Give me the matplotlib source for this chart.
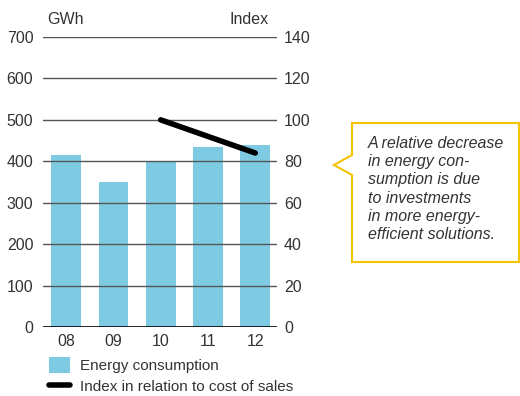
import matplotlib.pyplot as plt
from matplotlib.patches import Polygon, Patch
from matplotlib.lines import Line2D

plt.rcParams['font.family'] = ['Liberation Sans', 'DejaVu Sans']

years = ['08', '09', '10', '11', '12']
energy_gwh = [415, 350, 400, 435, 440]
index_years = ['10', '11', '12']
index_values = [100, 92, 84]

bar_color = '#7ecae3'
text_color = '#333333'
grid_color = '#555555'
gold = '#f5c400'
fs = 11.5

W, H = 520, 396
fig = plt.figure(figsize=(W / 100, H / 100), dpi=100)
ax = fig.add_axes([43 / W, 1 - 327 / H, 234 / W, 290 / H])

x = list(range(len(years)))
ax.bar(x, energy_gwh, width=0.63, color=bar_color, zorder=1)
ax.set_xlim(-0.49, 4.46)
ax.set_ylim(0, 700)
ax.set_yticks(range(0, 701, 100))
ax.set_xticks(x)
ax.set_xticklabels(years)

# horizontal rules on top of the bars
for v in range(100, 701, 100):
    ax.axhline(v, color=grid_color, lw=1.0, zorder=2)
ax.axhline(0, color='black', lw=1.2, zorder=3)

for s in ax.spines.values():
    s.set_visible(False)
ax.tick_params(axis='both', length=0, labelsize=fs, colors=text_color)
ax.tick_params(axis='y', pad=7)
ax.tick_params(axis='x', pad=5)

ax2 = ax.twinx()
ax2.set_ylim(0, 140)
ax2.set_yticks(range(0, 141, 20))
for s in ax2.spines.values():
    s.set_visible(False)
ax2.tick_params(axis='y', length=0, labelsize=fs, colors=text_color, pad=5)
ix = [years.index(y) for y in index_years]
ax2.plot(ix, index_values, color='black', lw=4, solid_capstyle='round', zorder=5)

ax.text(0.02, 1.035, 'GWh', transform=ax.transAxes, fontsize=fs,
        color=text_color, ha='left', va='bottom')
ax.text(0.965, 1.035, 'Index', transform=ax.transAxes, fontsize=fs,
        color=text_color, ha='right', va='bottom')

handles = [Patch(facecolor=bar_color, edgecolor='none'),
           Line2D([0], [0], color='black', lw=4, solid_capstyle='round')]
labels = ['Energy consumption', 'Index in relation to cost of sales']
fig.legend(handles, labels, loc='upper left', bbox_to_anchor=(49 / W, 1 - 357 / H),
           frameon=False, fontsize=11, labelcolor=text_color,
           handlelength=1.35, handleheight=1.2, handletextpad=0.65,
           labelspacing=0.35, borderpad=0, borderaxespad=0)

# speech-bubble callout
pts = [(352, 123), (519, 123), (519, 262), (352, 262), (352, 175),
       (334, 165), (352, 155)]
fig.patches.append(Polygon([(px / W, 1 - py / H) for px, py in pts], closed=True,
                           facecolor='white', edgecolor=gold, lw=1.5,
                           transform=fig.transFigure))
note = ('A relative decrease\nin energy con-\nsumption is due\nto investments\n'
        'in more energy-\nefficient solutions.')
fig.text(368 / W, 1 - 136 / H, note, fontsize=fs, style='italic',
         color=text_color, ha='left', va='top', linespacing=1.27)

fig.savefig('out.png', dpi=100)
